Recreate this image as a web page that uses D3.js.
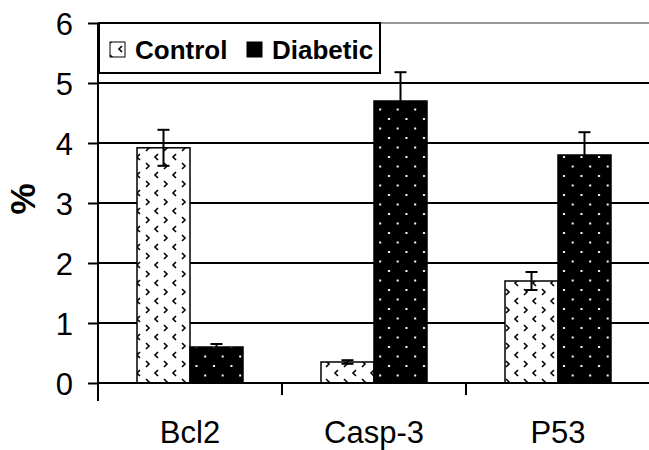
<!DOCTYPE html>
<html>
<head>
<meta charset="utf-8">
<script src="https://cdn.jsdelivr.net/npm/d3@7"></script>
<style>
  body { margin: 0; background: #fff; }
  svg { font-family: Arial, "Liberation Sans", sans-serif; }
</style>
</head>
<body>
<div class="chart"></div>
<script>
const categories = ['Bcl2', 'Casp-3', 'P53'];
const seriesNames = ['Control', 'Diabetic'];
const controlValues = [3.92, 0.35, 1.7];
const controlErrors = [0.3, 0.03, 0.15];
const diabeticValues = [0.6, 4.7, 3.8];
const diabeticErrors = [0.05, 0.48, 0.38];
const yTicks = [0, 1, 2, 3, 4, 5, 6];

const w = 649;
const h = 450;
const margin = {top: 23, right: 0, bottom: 67, left: 98};

const svg = d3.select('.chart')
                .append('svg')
                .attr('width', w)
                .attr('height', h);

const defs = svg.append('defs');

// control pattern: small chevrons on white
const pc = defs.append('pattern')
    .attr('id', 'pat-control')
    .attr('patternUnits', 'userSpaceOnUse')
    .attr('width', 18).attr('height', 18);
pc.append('rect').attr('width', 18).attr('height', 18).attr('fill', '#fff');
pc.append('path').attr('d', 'M2,1 l3,3 l-3,3').attr('fill', 'none').attr('stroke', '#000').attr('stroke-width', 1.6);
pc.append('path').attr('d', 'M14,10 l-3,3 l3,3').attr('fill', 'none').attr('stroke', '#000').attr('stroke-width', 1.6);

// diabetic pattern: white dots on black
const pd = defs.append('pattern')
    .attr('id', 'pat-diabetic')
    .attr('patternUnits', 'userSpaceOnUse')
    .attr('width', 17.5).attr('height', 19);
pd.append('rect').attr('width', 17.5).attr('height', 19).attr('fill', '#000');
pd.append('rect').attr('x', 3).attr('y', 4).attr('width', 2).attr('height', 2).attr('fill', '#fff');
pd.append('rect').attr('x', 11.7).attr('y', 13.5).attr('width', 2).attr('height', 2).attr('fill', '#fff');

// each category is 184 px wide, starting at the y axis
const catW = 184;
const x = d3.scaleBand()
            .domain(categories)
            .range([margin.left, margin.left + catW * categories.length]);

const y = d3.scaleLinear()
            .domain([0, 6])
            .range([h - margin.bottom, margin.top]);

const xSub = d3.scaleBand()
               .domain(seriesNames)
               .range([0, 106]);

// gridlines
svg.append('g')
    .selectAll('line')
    .data(yTicks.slice(1))
    .enter()
    .append('line')
    .attr('x1', margin.left)
    .attr('x2', w)
    .attr('y1', (d) => y(d))
    .attr('y2', (d) => y(d))
    .attr('stroke', (d) => d === 6 ? '#999' : '#000')
    .attr('stroke-width', 2);

// bars
const data = [];
categories.forEach((c, i) => {
    data.push({cat: c, s: 'Control', v: controlValues[i], e: controlErrors[i]});
    data.push({cat: c, s: 'Diabetic', v: diabeticValues[i], e: diabeticErrors[i]});
});

const barX = (d) => x(d.cat) + 39 + xSub(d.s);
const midX = (d) => barX(d) + xSub.bandwidth() / 2;

svg.selectAll('rect.bar')
    .data(data)
    .enter()
    .append('rect')
    .attr('class', 'bar')
    .attr('x', barX)
    .attr('y', (d) => y(d.v))
    .attr('width', xSub.bandwidth())
    .attr('height', (d) => y(0) - y(d.v))
    .attr('fill', (d) => d.s === 'Control' ? 'url(#pat-control)' : 'url(#pat-diabetic)')
    .attr('stroke', '#000')
    .attr('stroke-width', 1.5);

// error bars
const err = svg.append('g')
    .selectAll('g')
    .data(data)
    .enter()
    .append('g')
    .attr('stroke', '#000')
    .attr('stroke-width', 2);

err.append('line')
    .attr('x1', midX)
    .attr('x2', midX)
    .attr('y1', (d) => y(d.v - d.e))
    .attr('y2', (d) => y(d.v + d.e));
err.append('line')
    .attr('x1', (d) => midX(d) - 6)
    .attr('x2', (d) => midX(d) + 6)
    .attr('y1', (d) => y(d.v + d.e))
    .attr('y2', (d) => y(d.v + d.e));
err.filter((d) => d.s === 'Control')
    .append('line')
    .attr('x1', (d) => midX(d) - 6)
    .attr('x2', (d) => midX(d) + 6)
    .attr('y1', (d) => y(d.v - d.e))
    .attr('y2', (d) => y(d.v - d.e));

// y axis
const yAxis = d3.axisLeft(y).tickValues(yTicks).tickFormat(d3.format('d')).tickSize(10).tickPadding(15);
svg.append('g')
    .attr('transform', 'translate(' + margin.left + ',0)')
    .call(yAxis)
    .call((g) => g.select('.domain').attr('stroke-width', 2).attr('d', 'M0,' + margin.top + 'V' + (h - margin.bottom + 18)))
    .call((g) => g.selectAll('.tick line').attr('stroke-width', 2))
    .call((g) => g.selectAll('text')
        .attr('font-size', 31)
        .attr('fill', '#000')
        .attr('dy', '0.36em')
        .attr('font-family', 'Arial, "Liberation Sans", sans-serif'));

// x axis
const xAxis = d3.axisBottom(x).tickSize(0).tickPadding(38);
svg.append('g')
    .attr('transform', 'translate(0,' + y(0) + ')')
    .call(xAxis)
    .call((g) => g.select('.domain').attr('stroke-width', 2).attr('d', 'M' + margin.left + ',0H' + w))
    .call((g) => g.selectAll('text')
        .attr('font-size', 31)
        .attr('fill', '#000')
        .attr('font-family', 'Arial, "Liberation Sans", sans-serif'));

svg.append('g')
    .selectAll('line')
    .data(categories.slice(1).concat(['end']))
    .enter()
    .append('line')
    .attr('x1', (d, i) => margin.left + catW * (i + 1))
    .attr('x2', (d, i) => margin.left + catW * (i + 1))
    .attr('y1', y(0)).attr('y2', y(0) + 12)
    .attr('stroke', '#000').attr('stroke-width', 2);

// y label
svg.append('text')
    .attr('transform', 'translate(35,199) rotate(-90)')
    .attr('text-anchor', 'middle')
    .attr('font-size', 35)
    .attr('font-weight', 'bold')
    .text('%');

// legend
const legend = svg.append('g');
legend.append('rect')
    .attr('x', 99).attr('y', 23)
    .attr('width', 281).attr('height', 50)
    .attr('fill', '#fff')
    .attr('stroke', '#000')
    .attr('stroke-width', 2);

const legItems = [
    {name: seriesNames[0], fill: 'url(#pat-control)', x: 110},
    {name: seriesNames[1], fill: '#000', x: 247}
];
legItems.forEach((it) => {
    legend.append('rect')
        .attr('x', it.x).attr('y', 42)
        .attr('width', 15).attr('height', 15)
        .attr('fill', it.fill)
        .attr('stroke', '#000')
        .attr('stroke-width', 1);
    legend.append('text')
        .attr('x', it.x + 25).attr('y', 59)
        .attr('font-size', 26)
        .attr('font-weight', 'bold')
        .text(it.name);
});
</script>
</body>
</html>
